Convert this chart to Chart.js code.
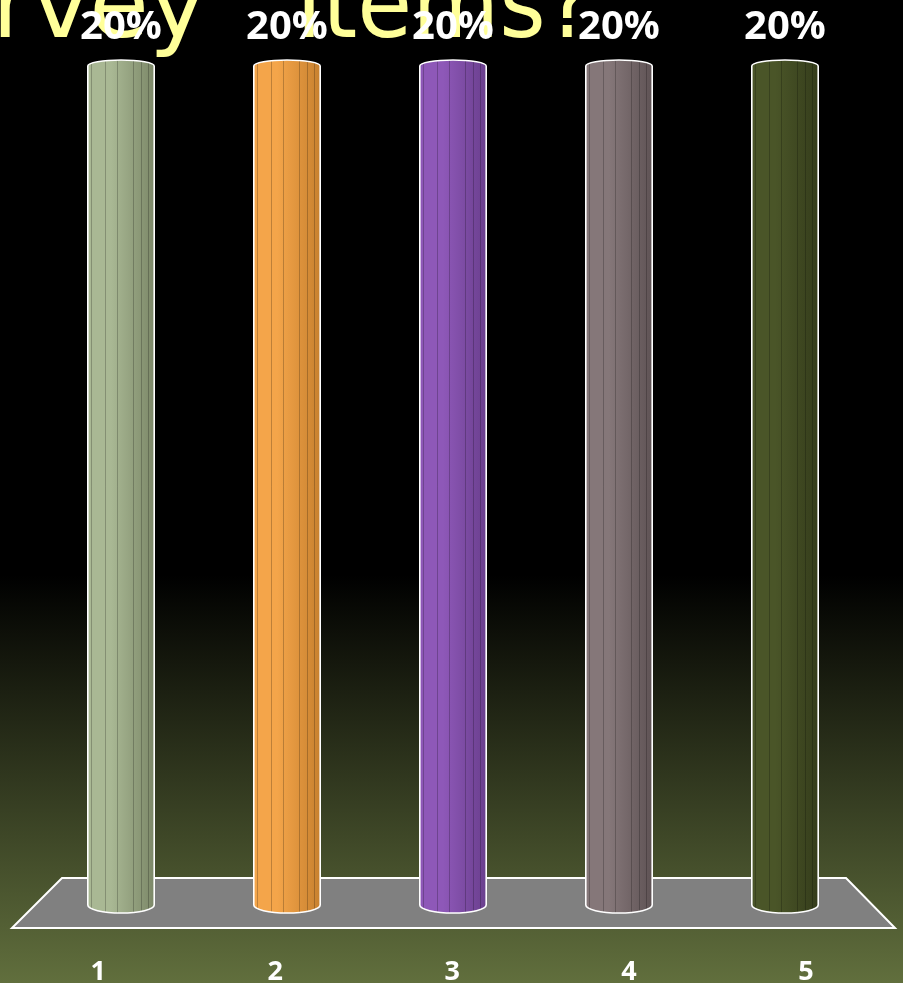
<!DOCTYPE html>
<html>
<head>
<meta charset="utf-8">
<script src="https://cdn.jsdelivr.net/npm/chart.js@4.4.1/dist/chart.umd.min.js"></script>
<style>
  html, body { margin: 0; padding: 0; background: #000; }
  #wrap { width: 903px; height: 983px; position: relative; }
</style>
</head>
<body>
<div id="wrap"><canvas id="chart" width="903" height="983"></canvas></div>
<script>
// Answer shares per option
const categories = ['1', '2', '3', '4', '5'];
const shares = [20, 20, 20, 20, 20];
const valueLabels = shares.map(v => v + '%');
// Title fragments shown across the top
const titleParts = ['rvey', 'Items?'];
// Light / dark edge colours for each cylinder
const lightColors = ['#a9b894', '#f4a54a', '#8e58b8', '#857779', '#4a5528'];
const darkColors  = ['#7c8868', '#c8812f', '#6a3f8e', '#5f5355', '#353d1b'];

// Page backdrop: black fading into olive toward the bottom
const backdrop = {
  id: 'backdrop',
  beforeDraw(chart) {
    const { ctx, width, height } = chart;
    const g = ctx.createLinearGradient(0, 0, 0, height);
    g.addColorStop(0, '#000000');
    g.addColorStop(0.585, '#000000');
    g.addColorStop(1, '#616f3d');
    ctx.save();
    ctx.fillStyle = g;
    ctx.fillRect(0, 0, width, height);
    // title
    ctx.fillStyle = '#ffff99';
    ctx.font = '97px "DejaVu Sans"';
    ctx.textBaseline = 'alphabetic';
    ctx.textAlign = 'left';
    ctx.fillText(titleParts[0], -8, 37);
    ctx.save();
    ctx.translate(296, 37);
    ctx.scale(0.92, 1);
    ctx.fillText(titleParts[1], 0, 0);
    ctx.restore();
    ctx.restore();
  }
};

// Grey floor slab under the cylinders
const floor = {
  id: 'floor',
  beforeDatasetsDraw(chart) {
    const { ctx, chartArea: a } = chart;
    const topY = a.bottom - 27, botY = a.bottom + 23;
    ctx.save();
    ctx.beginPath();
    ctx.moveTo(a.left + 24, topY);
    ctx.lineTo(a.right - 22, topY);
    ctx.lineTo(a.right + 27, botY);
    ctx.lineTo(a.left - 26, botY);
    ctx.closePath();
    ctx.fillStyle = '#808080';
    ctx.fill();
    ctx.strokeStyle = '#ffffff';
    ctx.lineWidth = 2;
    ctx.stroke();
    ctx.restore();
  }
};

// Cylinders drawn over each bar element's geometry, plus value and category labels
const cylinders = {
  id: 'cylinders',
  afterDatasetsDraw(chart) {
    const { ctx } = chart;
    const meta = chart.getDatasetMeta(0);
    const front = chart.scales.xFront;
    const topRy = 6, botRy = 8;
    meta.data.forEach((bar, i) => {
      const { x, y, base, width } = bar.getProps(['x', 'y', 'base', 'width'], true);
      const l = x - width / 2, r = x + width / 2, rx = width / 2;
      const shape = () => {
        ctx.beginPath();
        ctx.moveTo(l, base);
        ctx.lineTo(l, y);
        ctx.ellipse(x, y, rx, topRy, 0, Math.PI, 2 * Math.PI, false);
        ctx.lineTo(r, base);
        ctx.ellipse(x, base, rx, botRy, 0, 0, Math.PI, false);
        ctx.closePath();
      };
      ctx.save();
      const g = ctx.createLinearGradient(l, 0, r, 0);
      g.addColorStop(0, lightColors[i]);
      g.addColorStop(0.35, lightColors[i]);
      g.addColorStop(1, darkColors[i]);
      shape();
      ctx.fillStyle = g;
      ctx.fill();
      // facet lines
      ctx.save();
      shape();
      ctx.clip();
      ctx.strokeStyle = 'rgba(0,0,0,0.22)';
      ctx.lineWidth = 1;
      [0.05, 0.26, 0.44, 0.68, 0.8, 0.9].forEach(f => {
        const fx = Math.round(l + f * width) + 0.5;
        ctx.beginPath();
        ctx.moveTo(fx, y - topRy);
        ctx.lineTo(fx, base + botRy);
        ctx.stroke();
      });
      ctx.restore();
      shape();
      ctx.strokeStyle = '#ffffff';
      ctx.lineWidth = 1.6;
      ctx.stroke();

      // value label
      ctx.fillStyle = '#ffffff';
      ctx.font = 'bold 40px "Open Sans"';
      ctx.textAlign = 'center';
      ctx.textBaseline = 'alphabetic';
      ctx.fillText(valueLabels[i], x, y - 27);

      // category label at the front edge of the floor
      ctx.font = 'bold 27px "Open Sans"';
      ctx.fillText(categories[i], front.getPixelForValue(i + 1), 980);
      ctx.restore();
    });
  }
};

new Chart(document.getElementById('chart'), {
  type: 'bar',
  data: {
    labels: categories,
    datasets: [{
      data: shares,
      backgroundColor: 'rgba(0,0,0,0)',
      borderWidth: 0,
      categoryPercentage: 1,
      barPercentage: 0.4
    }]
  },
  options: {
    responsive: false,
    animation: false,
    layout: { padding: { left: 38, right: 35, top: 66, bottom: 78 } },
    plugins: { legend: { display: false }, tooltip: { enabled: false } },
    scales: {
      x: { display: false },
      xFront: { type: 'linear', display: false, offset: false, min: 0.66, max: 5.35 },
      y: { display: false, min: 0, max: 20 }
    }
  },
  plugins: [backdrop, floor, cylinders]
});
</script>
</body>
</html>
